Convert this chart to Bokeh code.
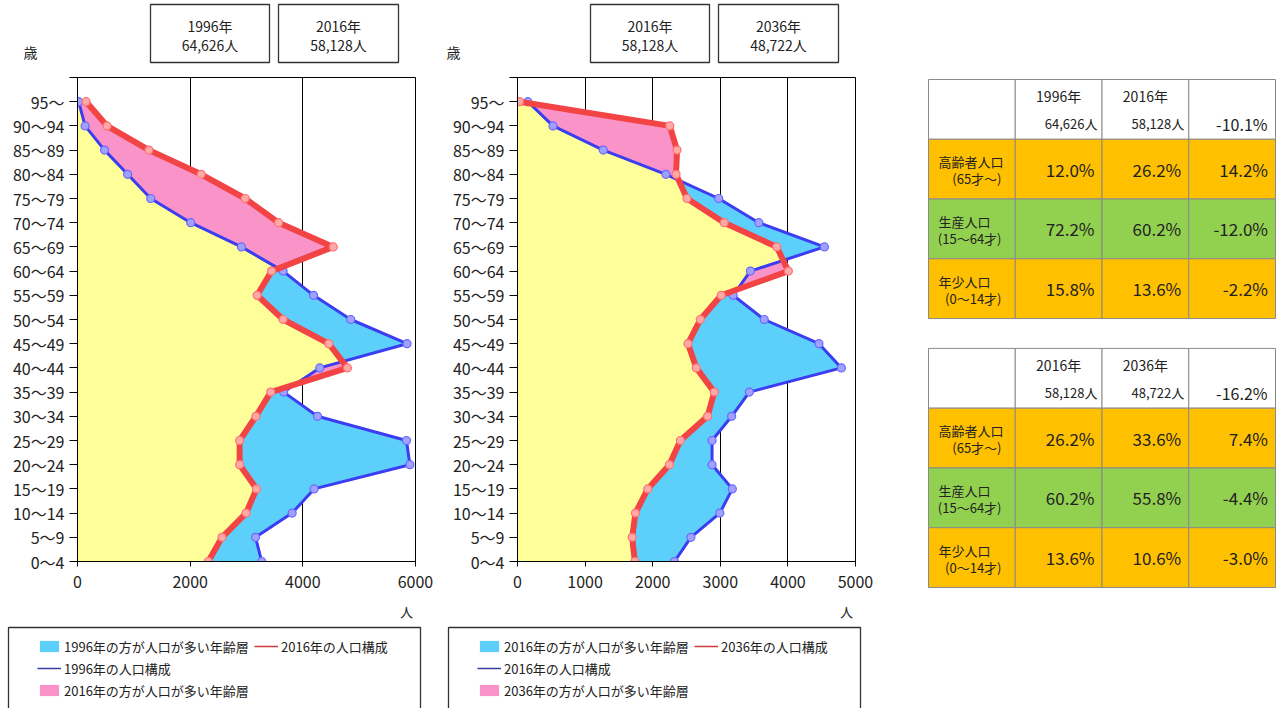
from bokeh.plotting import figure
from bokeh.models import Range1d, FixedTicker, Legend, LegendItem, ColumnDataSource
from bokeh.layouts import row, column
from bokeh.embed import file_html
from bokeh.resources import INLINE
from bokeh.core.properties import value

# ---------------- data ----------------
age_labels = ["0～4", "5～9", "10～14", "15～19", "20～24", "25～29", "30～34",
              "35～39", "40～44", "45～49", "50～54", "55～59", "60～64", "65～69",
              "70～74", "75～79", "80～84", "85～89", "90～94", "95～"]

pop_1996 = [3270, 3160, 3810, 4200, 5900, 5840, 4260, 3660, 4300, 5850,
            4850, 4190, 3650, 2910, 2010, 1300, 890, 480, 135, 20]
pop_2016 = [2322, 2565, 2993, 3178, 2878, 2878, 3168, 3430, 4792, 4460,
            3650, 3189, 3445, 4540, 3570, 2976, 2195, 1269, 525, 153]
pop_2036 = [1736, 1696, 1745, 1927, 2247, 2409, 2812, 2911, 2645, 2522,
            2704, 3014, 4007, 3835, 3058, 2507, 2345, 2360, 2252, 30]

chart1_years = ["1996年", "2016年"]
chart1_totals = ["64,626人", "58,128人"]
chart2_years = ["2016年", "2036年"]
chart2_totals = ["58,128人", "48,722人"]

legend1_labels = ["1996年の方が人口が多い年齢層", "1996年の人口構成",
                  "2016年の方が人口が多い年齢層", "2016年の人口構成"]
legend2_labels = ["2016年の方が人口が多い年齢層", "2016年の人口構成",
                  "2036年の方が人口が多い年齢層", "2036年の人口構成"]

x1_ticks = [0, 2000, 4000, 6000]
x2_ticks = [0, 1000, 2000, 3000, 4000, 5000]

group_labels = ["高齢者人口", "生産人口", "年少人口"]
group_sub = ["(65才～)", "(15～64才)", "(0～14才)"]

tbl1_years = ["1996年", "2016年"]
tbl1_totals = ["64,626人", "58,128人"]
tbl1_change = "-10.1%"
tbl1_vals = [["12.0%", "26.2%", "14.2%"],
             ["72.2%", "60.2%", "-12.0%"],
             ["15.8%", "13.6%", "-2.2%"]]

tbl2_years = ["2016年", "2036年"]
tbl2_totals = ["58,128人", "48,722人"]
tbl2_change = "-16.2%"
tbl2_vals = [["26.2%", "33.6%", "7.4%"],
             ["60.2%", "55.8%", "-4.4%"],
             ["13.6%", "10.6%", "-3.0%"]]

# ---------------- style ----------------
FONT = "'Liberation Sans Narrow', 'Noto Sans CJK JP', sans-serif"
TXT = "#222222"
YELLOW = "#ffff99"
CYAN = "#5cd0fa"
PINK = "#fa94c8"
BLUE = "#3c3cf0"
RED = "#f24444"
ORANGE = "#ffc000"
GREEN = "#92d050"


def bare_fig(w, h, xr, yr):
    f = figure(width=w, height=h, output_backend="svg", toolbar_location=None,
               x_range=xr, y_range=yr, x_axis_location=None, y_axis_location=None,
               min_border=0)
    f.grid.visible = False
    f.outline_line_color = None
    f.background_fill_color = "white"
    f.border_fill_color = "white"
    f.frame_align = False
    return f


def lower_envelope(a, b):
    xs, ys = [], []
    n = len(a)
    for i in range(n):
        xs.append(min(a[i], b[i]))
        ys.append(i)
        if i < n - 1:
            d0 = a[i] - b[i]
            d1 = a[i + 1] - b[i + 1]
            if d0 * d1 < 0:
                t = d0 / (d0 - d1)
                ys.append(i + t)
                xs.append(a[i] + t * (a[i + 1] - a[i]))
    return xs, ys


def make_header(years, totals, kanji_x):
    h = bare_fig(440, 70, Range1d(0, 440), Range1d(70, 0))
    h.quad(left=[150, 278], right=[269, 398], top=[4, 4], bottom=[62, 62],
           fill_color="white", line_color="#333333", line_width=1.3)
    h.text(x=[209.5, 338], y=[25, 25], text=years, text_align="center",
           text_baseline="middle", text_font=value(FONT), text_font_size="14px",
           text_color=TXT)
    h.text(x=[209.5, 338], y=[44, 44], text=totals, text_align="center",
           text_baseline="middle", text_font=value(FONT), text_font_size="14px",
           text_color=TXT)
    h.text(x=[kanji_x], y=[51], text=["歳"], text_align="center",
           text_baseline="middle", text_font=value(FONT), text_font_size="14px",
           text_color=TXT)
    return h


def make_legend(labels):
    g = bare_fig(440, 108, Range1d(0, 440), Range1d(108, 0))
    g.quad(left=[8], right=[420], top=[27], bottom=[130], fill_color="white",
           line_color="#333333", line_width=1.3)
    g.text(x=[406], y=[11], text=["人"], text_align="center", text_baseline="middle",
           text_font=value(FONT), text_font_size="13px", text_color=TXT)
    # single-point sources: nothing visible is drawn, only the legend swatches
    stub = ColumnDataSource(dict(x=[0], y=[0], x2=[0]))
    d_cyan = g.harea(x1="x", x2="x2", y="y", source=stub, fill_color=CYAN)
    d_pink = g.harea(x1="x", x2="x2", y="y", source=stub, fill_color=PINK)
    d_blue = g.line("x", "y", source=stub, line_color="#3a3aa8", line_width=1.5)
    d_red = g.line("x", "y", source=stub, line_color="#d03a3a", line_width=1.5)
    legend = Legend(items=[LegendItem(label=labels[0], renderers=[d_cyan]),
                           LegendItem(label=labels[1], renderers=[d_blue]),
                           LegendItem(label=labels[2], renderers=[d_pink]),
                           LegendItem(label=labels[3], renderers=[d_red])],
                    location=(29, 0), nrows=3,
                    glyph_width=24, glyph_height=14, label_standoff=3,
                    label_width=188, label_height=20, spacing=2, padding=8,
                    border_line_alpha=0, background_fill_alpha=0,
                    label_text_font=FONT, label_text_font_size="13px",
                    label_text_color=TXT)
    g.add_layout(legend)
    return g


def make_chart(earlier, later, xmax, xticks):
    p = figure(width=440, height=530, output_backend="svg", toolbar_location=None,
               x_range=Range1d(0, xmax), y_range=Range1d(0, 20),
               min_border_left=77, min_border_right=25,
               min_border_top=7, min_border_bottom=39)
    p.frame_align = False
    p.background_fill_color = "white"
    p.border_fill_color = "white"
    p.outline_line_color = "black"
    p.outline_line_width = 1

    idx = list(range(len(earlier)))
    zeros = [0] * len(earlier)
    p.harea(x1=zeros, x2=later, y=idx, fill_color=PINK)
    p.harea(x1=zeros, x2=earlier, y=idx, fill_color=CYAN)
    ex, ey = lower_envelope(earlier, later)
    p.harea(x1=[0] * len(ex), x2=ex, y=ey, fill_color=YELLOW)

    p.line(earlier, idx, line_color=BLUE, line_width=3)
    p.scatter(earlier, idx, size=8, fill_color="#a0a0ff", line_color="#6868ff",
              line_width=1.2)
    p.line(later, idx, line_color=RED, line_width=6, line_join="round")
    p.scatter(later, idx, size=8, fill_color="#ffa8a8", line_color="#ff7070",
              line_width=1.2)

    p.ygrid.visible = False
    p.xgrid.ticker = FixedTicker(ticks=xticks)
    p.xgrid.grid_line_color = "black"
    p.xgrid.grid_line_alpha = 1
    p.xgrid.grid_line_width = 1

    p.xaxis.ticker = FixedTicker(ticks=xticks)
    p.xaxis.minor_tick_line_color = None
    p.xaxis.major_tick_out = 5
    p.xaxis.major_tick_in = 0
    p.xaxis.major_label_standoff = 9
    p.xaxis.axis_line_color = "black"
    p.xaxis.major_tick_line_color = "black"
    p.xaxis.major_label_text_font = FONT
    p.xaxis.major_label_text_font_size = "16px"
    p.xaxis.major_label_text_color = TXT

    p.yaxis.ticker = FixedTicker(ticks=list(range(21)))
    overrides = {i: lab for i, lab in enumerate(age_labels)}
    overrides[20] = ""
    p.yaxis.major_label_overrides = overrides
    p.yaxis.minor_tick_line_color = None
    p.yaxis.major_tick_out = 8
    p.yaxis.major_tick_in = 0
    p.yaxis.major_label_standoff = 5
    p.yaxis.axis_line_color = "black"
    p.yaxis.major_tick_line_color = "black"
    p.yaxis.major_label_text_font = FONT
    p.yaxis.major_label_text_font_size = "16px"
    p.yaxis.major_label_text_color = TXT
    return p


col1 = column(make_header(chart1_years, chart1_totals, 30),
              make_chart(pop_1996, pop_2016, 6000, x1_ticks),
              make_legend(legend1_labels))
col2 = column(make_header(chart2_years, chart2_totals, 13),
              make_chart(pop_2016, pop_2036, 5000, x2_ticks),
              make_legend(legend2_labels))

# ---------------- tables ----------------
COLW = 86.75
ROWH = 59.76
t = bare_fig(401, 708, Range1d(-48 / COLW, 353 / COLW),
             Range1d(629 / ROWH, -79 / ROWH))

row_colors = [ORANGE, GREEN, ORANGE]


def draw_table(off, years, totals, change, vals):
    L, R, T, B, C = [], [], [], [], []
    for r in range(4):
        for c in range(4):
            L.append(c); R.append(c + 1); T.append(off + r); B.append(off + r + 1)
            C.append("white" if r == 0 else row_colors[r - 1])
    t.quad(left=L, right=R, top=T, bottom=B, fill_color=C,
           line_color="#8a8a8a", line_width=1)
    t.text(x=[1.5, 2.5], y=[off + 0.28] * 2, text=years, text_align="center",
           text_baseline="middle", text_font=value(FONT), text_font_size="14px",
           text_color=TXT)
    t.text(x=[2 - 4.5 / COLW, 3 - 4.5 / COLW], y=[off + 0.74] * 2, text=totals,
           text_align="right", text_baseline="middle", text_font=value(FONT),
           text_font_size="13px", text_color=TXT)
    t.text(x=[4 - 8 / COLW], y=[off + 0.74], text=[change], text_align="right",
           text_baseline="middle", text_font=value(FONT), text_font_size="16px",
           text_color=TXT)
    t.text(x=[10 / COLW] * 3, y=[off + r + 1.38 for r in range(3)], text=group_labels,
           text_align="left", text_baseline="middle", text_font=value(FONT),
           text_font_size="13px", text_color=TXT)
    t.text(x=[73 / COLW] * 3, y=[off + r + 1.66 for r in range(3)], text=group_sub,
           text_align="right", text_baseline="middle", text_font=value(FONT),
           text_font_size="13px", text_color=TXT)
    xs, ys, tx = [], [], []
    for r in range(3):
        for c in range(3):
            xs.append(c + 2 - 7.5 / COLW)
            ys.append(off + r + 1.5)
            tx.append(vals[r][c])
    t.text(x=xs, y=ys, text=tx, text_align="right", text_baseline="middle",
           text_font=value(FONT), text_font_size="17px", text_color=TXT)


draw_table(0, tbl1_years, tbl1_totals, tbl1_change, tbl1_vals)
draw_table(4.5, tbl2_years, tbl2_totals, tbl2_change, tbl2_vals)

layout = row(col1, col2, t)
open("out.html", "w").write(file_html(layout, INLINE))
